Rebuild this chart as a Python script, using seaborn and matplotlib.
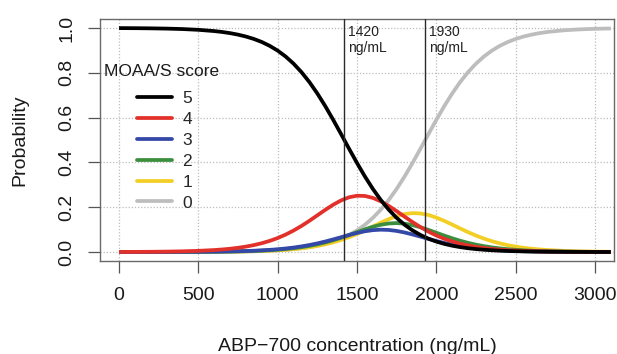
import matplotlib
matplotlib.use("Agg")
import matplotlib.pyplot as plt
import pandas as pd
import seaborn as sns
from matplotlib.lines import Line2D

# ---------------- data ----------------
conc = [0, 100, 200, 300, 400, 500, 600, 650, 700, 750, 800, 850, 900, 950, 1000,
        1050, 1100, 1150, 1200, 1250, 1300, 1350, 1400, 1450, 1500, 1550, 1600, 1650,
        1700, 1750, 1800, 1850, 1900, 1950, 2000, 2050, 2100, 2150, 2200, 2250, 2300,
        2350, 2400, 2450, 2500, 2550, 2600, 2650, 2700, 2800, 2900, 3000, 3100]
p5 = [0.9994, 0.9990, 0.9983, 0.9971, 0.9951, 0.9917, 0.9861, 0.9821, 0.9769, 0.9702,
      0.9617, 0.9509, 0.9373, 0.9201, 0.8988, 0.8726, 0.8408, 0.8028, 0.7584, 0.7076,
      0.6511, 0.5900, 0.5259, 0.4610, 0.3974, 0.3371, 0.2817, 0.2322, 0.1891, 0.1524,
      0.1217, 0.0966, 0.0761, 0.0597, 0.0467, 0.0364, 0.0283, 0.0220, 0.0170, 0.0132,
      0.0102, 0.0079, 0.0061, 0.0047, 0.0036, 0.0028, 0.0022, 0.0017, 0.0013, 0.0008,
      0.0005, 0.0003, 0.0002]
p4 = [0.0004, 0.0007, 0.0011, 0.0019, 0.0032, 0.0053, 0.0089, 0.0114, 0.0147, 0.0189,
      0.0243, 0.0310, 0.0394, 0.0498, 0.0625, 0.0778, 0.0959, 0.1165, 0.1394, 0.1638,
      0.1882, 0.2112, 0.2305, 0.2444, 0.2513, 0.2503, 0.2416, 0.2263, 0.2059, 0.1824,
      0.1578, 0.1337, 0.1113, 0.0913, 0.0739, 0.0592, 0.0471, 0.0372, 0.0292, 0.0229,
      0.0178, 0.0139, 0.0108, 0.0083, 0.0065, 0.0050, 0.0039, 0.0030, 0.0023, 0.0014,
      0.0008, 0.0005, 0.0003]
p3 = [0.0001, 0.0001, 0.0002, 0.0004, 0.0006, 0.0010, 0.0017, 0.0021, 0.0028, 0.0036,
      0.0046, 0.0059, 0.0076, 0.0097, 0.0124, 0.0158, 0.0200, 0.0252, 0.0313, 0.0386,
      0.0470, 0.0563, 0.0661, 0.0760, 0.0851, 0.0926, 0.0977, 0.0998, 0.0986, 0.0942,
      0.0872, 0.0784, 0.0687, 0.0588, 0.0493, 0.0407, 0.0331, 0.0266, 0.0213, 0.0168,
      0.0132, 0.0104, 0.0081, 0.0063, 0.0049, 0.0038, 0.0029, 0.0023, 0.0018, 0.0010,
      0.0006, 0.0004, 0.0002]
p2 = [0.0001, 0.0001, 0.0002, 0.0003, 0.0005, 0.0008, 0.0014, 0.0018, 0.0023, 0.0029,
      0.0038, 0.0049, 0.0063, 0.0082, 0.0105, 0.0134, 0.0171, 0.0218, 0.0275, 0.0345,
      0.0428, 0.0526, 0.0637, 0.0760, 0.0888, 0.1013, 0.1127, 0.1218, 0.1275, 0.1292,
      0.1267, 0.1202, 0.1106, 0.0989, 0.0862, 0.0734, 0.0614, 0.0505, 0.0410, 0.0329,
      0.0262, 0.0207, 0.0163, 0.0128, 0.0100, 0.0077, 0.0060, 0.0043, 0.0036, 0.0022,
      0.0013, 0.0008, 0.0005]
p1 = [0.0000, 0.0001, 0.0001, 0.0002, 0.0004, 0.0006, 0.0010, 0.0013, 0.0017, 0.0022,
      0.0028, 0.0037, 0.0047, 0.0061, 0.0079, 0.0102, 0.0131, 0.0168, 0.0214, 0.0272,
      0.0345, 0.0433, 0.0539, 0.0665, 0.0809, 0.0969, 0.1139, 0.1310, 0.1469, 0.1602,
      0.1695, 0.1737, 0.1722, 0.1654, 0.1539, 0.1391, 0.1225, 0.1053, 0.0887, 0.0735,
      0.0600, 0.0484, 0.0387, 0.0306, 0.0242, 0.0189, 0.0148, 0.0115, 0.0090, 0.0054,
      0.0032, 0.0019, 0.0011]
p0 = [0.0000, 0.0001, 0.0001, 0.0002, 0.0004, 0.0006, 0.0010, 0.0013, 0.0017, 0.0022,
      0.0028, 0.0036, 0.0047, 0.0061, 0.0079, 0.0102, 0.0132, 0.0170, 0.0220, 0.0283,
      0.0364, 0.0467, 0.0597, 0.0761, 0.0966, 0.1217, 0.1524, 0.1891, 0.2322, 0.2817,
      0.3371, 0.3974, 0.4611, 0.5259, 0.5900, 0.6511, 0.7076, 0.7584, 0.8028, 0.8408,
      0.8726, 0.8988, 0.9201, 0.9373, 0.9509, 0.9617, 0.9702, 0.9769, 0.9821, 0.9893,
      0.9936, 0.9962, 0.9977]

scores = ["5", "4", "3", "2", "1", "0"]
series = {"5": p5, "4": p4, "3": p3, "2": p2, "1": p1, "0": p0}
colors = {"5": "#000000", "4": "#E2302A", "3": "#3448A8", "2": "#3A8E3E",
          "1": "#F3CF25", "0": "#BDBDBD"}
thresholds = [1420, 1930]
threshold_labels = ["1420\nng/mL", "1930\nng/mL"]
xticks = [0, 500, 1000, 1500, 2000, 2500, 3000]
yticks = [0.0, 0.2, 0.4, 0.6, 0.8, 1.0]
ytick_labels = ["0.0", "0.2", "0.4", "0.6", "0.8", "1.0"]

rows = []
for s in scores:
    for c, v in zip(conc, series[s]):
        rows.append({"conc": c, "prob": v, "score": s})
df = pd.DataFrame(rows)

# ---------------- style ----------------
sns.set_style("white")
plt.rcParams["font.family"] = ["Liberation Sans", "DejaVu Sans"]

fig = plt.figure(figsize=(6.17, 3.54), dpi=100)
ax = fig.add_axes([100 / 617, 1 - 261 / 354, 514 / 617, 242 / 354])

ax.set_xticks(xticks)
ax.set_yticks(yticks)
ax.grid(True, linestyle=(0, (1, 1.5)), color="#BDBDBD", linewidth=0.9)
ax.set_axisbelow(True)

draw_order = ["0", "1", "2", "3", "4", "5"]
sns.lineplot(data=df, x="conc", y="prob", hue="score", hue_order=draw_order,
             palette=colors, linewidth=2.7, legend=False, ax=ax, sort=False)
for ln in ax.get_lines():
    ln.set_solid_joinstyle("round")
    ln.set_solid_capstyle("butt")

for t, lab in zip(thresholds, threshold_labels):
    ax.axvline(t, color="#2a2a2a", linewidth=1.0, zorder=5)
    ax.text(t + 22, 1.014, lab, fontsize=10, va="top", ha="left",
            color="#222222", linespacing=1.2)

ax.set_xlim(-120, 3120)
ax.set_ylim(-0.04, 1.04)
ax.set_yticklabels(ytick_labels)
ax.tick_params(axis="both", which="both", direction="out", length=8.5,
               width=0.9, color="#555555", labelsize=14, labelcolor="#1a1a1a",
               bottom=True, left=True)
ax.tick_params(axis="x", pad=10)
ax.tick_params(axis="y", pad=9)
for lab in ax.get_yticklabels():
    lab.set_rotation(90)
    lab.set_va("center")

for sp in ax.spines.values():
    sp.set_color("#6a6a6a")
    sp.set_linewidth(1.0)
    sp.set_visible(True)

ax.set_xlabel("ABP\u2212700 concentration (ng/mL)", fontsize=14, labelpad=25,
              color="#1a1a1a")
ax.set_ylabel("Probability", fontsize=14, labelpad=22, color="#1a1a1a")

# legend (no box), title drawn as text
handles = [Line2D([0], [0], color=colors[s], linewidth=2.7) for s in scores]
ax.legend(handles, scores, loc="upper left", bbox_to_anchor=(137 / 617, 1 - 91 / 354),
          bbox_transform=fig.transFigure, frameon=False, fontsize=12.5,
          handlelength=2.0, handletextpad=0.6, labelspacing=0.33,
          borderpad=0, borderaxespad=0)
fig.text(104 / 617, 1 - 72 / 354, "MOAA/S score", fontsize=12.5, va="center",
         ha="left", color="#1a1a1a")

fig.savefig("out.png", dpi=100)
